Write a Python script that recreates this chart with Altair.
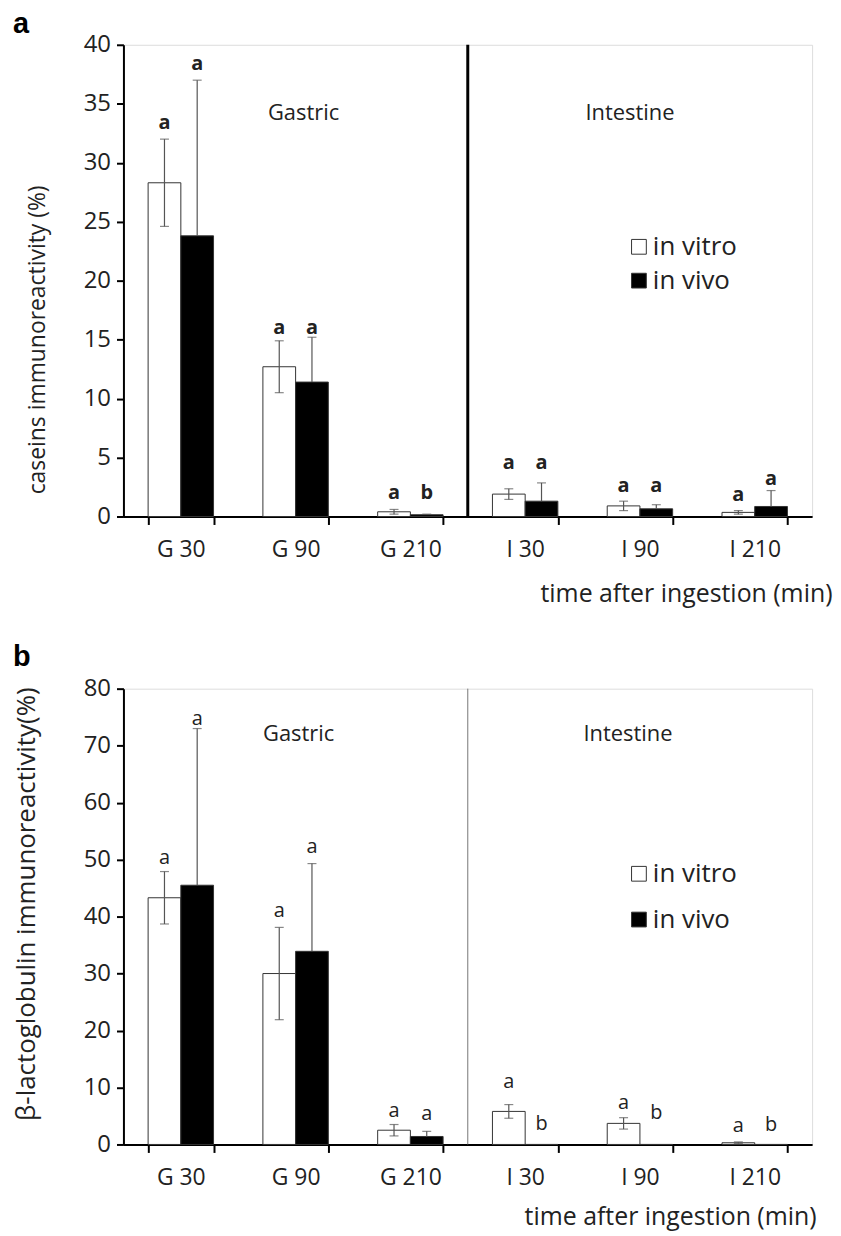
import altair as alt
import pandas as pd

categories = ["G 30", "G 90", "G 210", "I 30", "I 90", "I 210"]
series = ["in vitro", "in vivo"]

# Panel a: caseins immunoreactivity (%)
a_vitro = [28.3, 12.7, 0.4, 1.9, 0.9, 0.35]
a_vitro_err = [3.7, 2.2, 0.2, 0.45, 0.4, 0.15]
a_vivo = [23.8, 11.4, 0.15, 1.3, 0.65, 0.85]
a_vivo_err = [13.2, 3.8, 0.05, 1.55, 0.35, 1.35]
a_vitro_letters = ["a", "a", "a", "a", "a", "a"]
a_vivo_letters = ["a", "a", "b", "a", "a", "a"]
a_vitro_letter_y = [33.4, 16.0, 2.0, 4.5, 2.6, 1.85]
a_vivo_letter_y = [38.4, 16.0, 2.0, 4.5, 2.6, 3.2]

# Panel b: beta-lactoglobulin immunoreactivity (%)
b_vitro = [43.3, 30.0, 2.5, 5.8, 3.7, 0.3]
b_vitro_err = [4.6, 8.1, 1.0, 1.2, 1.0, 0.15]
b_vivo = [45.5, 33.9, 1.4, 0.0, 0.0, 0.0]
b_vivo_err = [27.5, 15.4, 0.9, 0.0, 0.0, 0.0]
b_vitro_letters = ["a", "a", "a", "a", "a", "a"]
b_vivo_letters = ["a", "a", "a", "b", "b", "b"]
b_vitro_letter_y = [50.3, 41.0, 5.8, 10.9, 7.2, 3.2]
b_vivo_letter_y = [74.7, 52.2, 5.3, 3.5, 5.5, 3.4]

region_names = ["Gastric", "Intestine"]
region_cats = ["G 90", "I 90"]

FONT = "Open Sans"
PI = 0.43
PO = PI / 2
W = 692
STEP = W / len(categories)


def frame(vitro, vitro_err, vivo, vivo_err, vl, vvl, vly, vvly):
    rows = []
    for i, c in enumerate(categories):
        rows.append(dict(cat=c, series="in vitro", value=vitro[i], err=vitro_err[i],
                         lo=vitro[i] - vitro_err[i], hi=vitro[i] + vitro_err[i],
                         letter=vl[i], ly=vly[i]))
        rows.append(dict(cat=c, series="in vivo", value=vivo[i], err=vivo_err[i],
                         lo=vivo[i], hi=vivo[i] + vivo_err[i],
                         letter=vvl[i], ly=vvly[i]))
    return pd.DataFrame(rows)


def panel(df, ymax, ystep, ytitle, ytitle_size, ytitle_y, ytitle_x, xtitle_x, xtitle_y, h,
          label, title_offset, bold_letters, legend_y, legend_pad, region_y, region_dx,
          divider_color, divider_w):
    xscale = alt.Scale(domain=categories, paddingInner=PI, paddingOuter=PO)
    x = alt.X("cat:N", scale=xscale, sort=categories,
              axis=alt.Axis(tickBand="extent", labelAngle=0, domainColor="black",
                            domainWidth=2, tickColor="black", tickWidth=2, tickSize=8,
                            labelPadding=14, labelFontSize=23, labelColor="#222",
                            title="time after ingestion (min)", titleFontSize=25,
                            titleFontWeight="normal", titleColor="#222",
                            titleAlign="right", titleX=xtitle_x, titleY=xtitle_y,
                            titleBaseline="middle"))
    xo = alt.XOffset("series:N", sort=series, scale=alt.Scale(paddingInner=0, paddingOuter=0))
    yscale = alt.Scale(domain=[0, ymax], nice=False)
    y = alt.Y("value:Q", scale=yscale,
              axis=alt.Axis(values=list(range(0, ymax + 1, ystep)), grid=False,
                            domainColor="black", domainWidth=2, tickColor="black",
                            tickWidth=2, tickSize=7, labelFontSize=24, labelColor="#222",
                            labelPadding=6, title=ytitle, titleFontSize=ytitle_size,
                            titleFontWeight="normal", titleColor="#222",
                            titleX=ytitle_x, titleY=ytitle_y, titleAlign="center",
                            titleBaseline="middle", titleAngle=270))
    base = alt.Chart(df)
    bars = base.mark_bar(stroke="#333", strokeWidth=1).encode(
        x=x, xOffset=xo, y=y,
        fill=alt.Fill("series:N", sort=series,
                      scale=alt.Scale(domain=series, range=["white", "black"]),
                      legend=alt.Legend(orient="none", legendX=505, legendY=legend_y,
                                        title=None, symbolType="square", symbolSize=220,
                                        symbolStrokeColor="#333", symbolStrokeWidth=1,
                                        labelFontSize=26, labelFont=FONT, labelColor="#222",
                                        rowPadding=legend_pad, labelOffset=1)),
    )
    edf = base.transform_filter("datum.err > 0")
    rules = edf.mark_rule(color="#555", strokeWidth=1.2).encode(
        x=alt.X("cat:N", sort=categories), xOffset=xo,
        y=alt.Y("lo:Q"), y2="hi:Q")
    cap_hi = edf.mark_tick(orient="horizontal", size=9, thickness=1.2, color="#555").encode(
        x=alt.X("cat:N", sort=categories), xOffset=xo, y=alt.Y("hi:Q"))
    cap_lo = edf.transform_filter("datum.series == 'in vitro'").mark_tick(
        orient="horizontal", size=9, thickness=1.2, color="#555").encode(
        x=alt.X("cat:N", sort=categories), xOffset=xo, y=alt.Y("lo:Q"))
    letters = base.mark_text(font=FONT, fontSize=20,
                             fontWeight="bold" if bold_letters else "normal",
                             color="#222", baseline="middle").encode(
        x=alt.X("cat:N", sort=categories), xOffset=xo, y=alt.Y("ly:Q"), text="letter:N")
    regions = []
    for name, cat, dx in zip(region_names, region_cats, region_dx):
        regions.append(alt.Chart(pd.DataFrame({"cat": [cat], "ry": [region_y], "txt": [name]}))
                       .mark_text(font=FONT, fontSize=22, color="#222", baseline="middle", dx=dx)
                       .encode(x=alt.X("cat:N", sort=categories), y=alt.Y("ry:Q"), text="txt:N"))
    divider = alt.Chart(pd.DataFrame({"cat": ["I 30"], "y0": [0], "y1": [ymax]})).mark_rule(
        color=divider_color, strokeWidth=divider_w, xOffset=-PO * STEP).encode(
        x=alt.X("cat:N", sort=categories, bandPosition=0),
        y=alt.Y("y0:Q"), y2="y1:Q")
    return alt.layer(bars, rules, cap_hi, cap_lo, letters, *regions, divider).properties(
        width=W, height=h,
        title=alt.TitleParams(label, anchor="start", frame="group", fontSize=29,
                              fontWeight="bold", font="Liberation Sans", dx=-111,
                              offset=title_offset))


dfa = frame(a_vitro, a_vitro_err, a_vivo, a_vivo_err,
            a_vitro_letters, a_vivo_letters, a_vitro_letter_y, a_vivo_letter_y)
dfb = frame(b_vitro, b_vitro_err, b_vivo, b_vivo_err,
            b_vitro_letters, b_vivo_letters, b_vitro_letter_y, b_vivo_letter_y)

pa = panel(dfa, 40, 5, "caseins  immunoreactivity (%)", 23, 296, -86, 712, 77, 474,
           "a", -6, True, 190, 8, 34.2, [8, -10], "black", 3)
pb = panel(dfb, 80, 10, "β-lactoglobulin immunoreactivity(%)", 26, 216, -97, 696, 72, 458,
           "b", 5, False, 173, 20, 72.1, [3, -12], "#777", 1)

chart = alt.vconcat(pa, pb, spacing=35).resolve_scale(fill="independent").properties(
    padding={"left": 4, "right": 0, "top": -2, "bottom": 0}).configure_view(
    stroke="#999", strokeWidth=1).configure(font=FONT).configure_axis(
    labelFont=FONT, titleFont=FONT)

chart.save("out.html", embed_options={"renderer": "svg", "actions": False})
